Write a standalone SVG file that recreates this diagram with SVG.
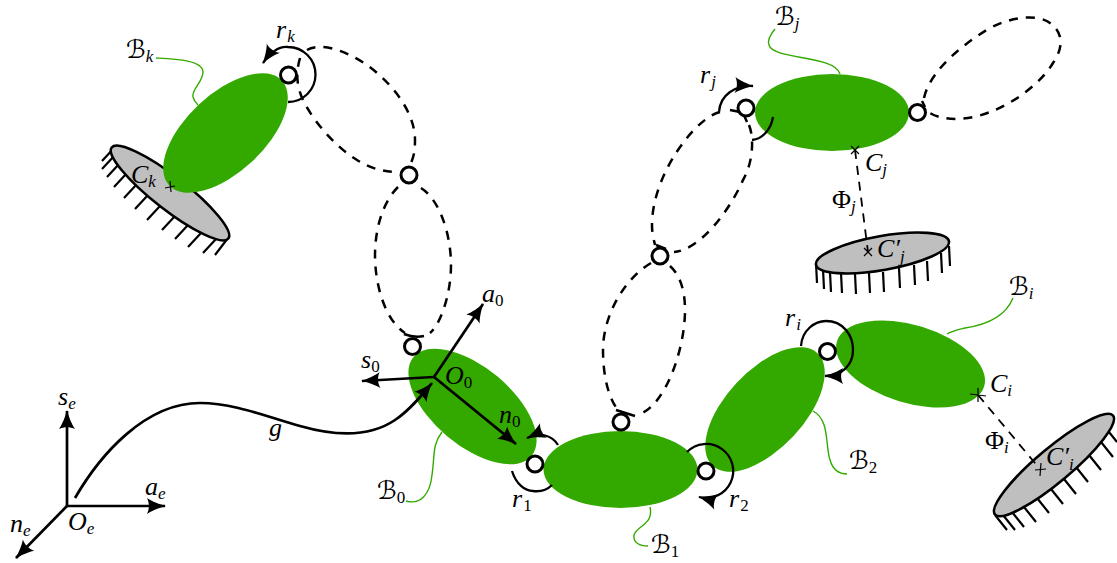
<svg xmlns="http://www.w3.org/2000/svg" width="1117" height="563" viewBox="0 0 1117 563">
<style>
.body{fill:#33a900}
.fix{fill:#bfbfbf;stroke:#000;stroke-width:2.6}
.hatch{stroke:#000;stroke-width:2.2;fill:none}
.joint{fill:#fff;stroke:#000;stroke-width:3}
.dash{fill:none;stroke:#000;stroke-width:2.5;stroke-dasharray:9 8}
.tick{fill:none;stroke:#000;stroke-width:2.5}
.thin{fill:none;stroke:#000;stroke-width:1.8;stroke-dasharray:9 7}
.arc{fill:none;stroke:#000;stroke-width:2.3}
.arr{fill:none;stroke:#000;stroke-width:2.7;marker-end:url(#h)}
.arcA{fill:none;stroke:#000;stroke-width:2.3;marker-end:url(#h)}
.lead{fill:none;stroke:#33a900;stroke-width:1.4}
.cross{stroke:#000;stroke-width:1.2;fill:none}
text{font-family:"Liberation Serif",serif;font-style:italic;font-size:26px;fill:#000}
.sub{font-size:17px}
.up{font-style:normal}
.cal{font-family:"DejaVu Serif","DejaVu Sans",serif;font-style:normal;font-size:25px}
</style>
<defs>
<marker id="h" markerUnits="userSpaceOnUse" markerWidth="20" markerHeight="16" viewBox="0 0 20 16" refX="19" refY="8" orient="auto" overflow="visible">
<path d="M20,8C14,9.500 6,12.500 1,16C3.500,11 3.500,5 1,0C6,3.500 14,6.500 20,8Z" fill="#000"/>
</marker>
</defs>

<g id="fix-k">
<path class="hatch" d="M102,161l13,-14M102,169l13,-14M107,177l13,-14M114,187l13,-14M124,198l13,-14M135,209l13,-14M147,220l13,-14M162,230l13,-14M175,239l13,-14M188,247l13,-14M203,253l13,-14M215,255l13,-17"/>
<ellipse class="fix" cx="170" cy="193" rx="74" ry="16.500" transform="rotate(38 170 193)"/>
</g>
<g id="fix-j">
<path class="hatch" d="M817,283l-1,-20M824,289l-1,-20M831,292l-1,-20M842,293l-1,-20M856,294l-1,-20M870,293l-1,-20M884,292l-1,-20M900,288l-1,-20M915,285l-1,-20M928,281l-1,-20M942,273l-1,-20M950,266l-1,-20"/>
<ellipse class="fix" cx="882.500" cy="253" rx="67.500" ry="17" transform="rotate(-10 882.500 253)"/>
</g>
<g id="fix-i">
<path class="hatch" d="M1007,530l-12,-15M1015,530l-12,-15M1024,527l-12,-15M1036,522l-12,-15M1049,513l-12,-15M1063,504l-12,-15M1076,494l-12,-15M1088,482l-12,-15M1101,470l-12,-15M1113,457l-12,-15M1117,442l-12,-15"/>
<ellipse class="fix" cx="1054" cy="465" rx="77" ry="17" transform="rotate(-40 1054 465)"/>
</g>

<g id="connectors">
<path class="lead" d="M156,58C175,59 203,60 203,72C203,82 191,90 193,97C194,101 196,103 198,105"/>
<path class="lead" d="M775,29C770,35 767,40 769,45C773,60 835,55 840,74"/>
<path class="lead" d="M1013,298C1005,318 985,325 965,328C957,330 952,331 947,334"/>
<path class="lead" d="M813,411C830,420 825,445 830,460C833,470 840,474 847,474"/>
<path class="lead" d="M650,507C654,525 637,525 634,535C633,543 640,546 648,546"/>
<path class="lead" d="M442,432C432,445 435,455 432,475C430,495 420,505 406,501"/>

<path class="dash" d="M307,50C320,42 345,50 367,65C392,83 415,112 415,140C415,150 414,156 411,163"/>
<path class="dash" d="M300,58C296,72 296,85 303,100C315,125 340,150 357,160C370,168 380,171 396,172"/>
<path class="dash" d="M398,187C380,205 375,235 375,255C375,285 385,320 405,333"/>
<path class="dash" d="M421,188C440,200 451,235 451,265C451,295 440,325 430,333"/>
<path class="dash" d="M651,263C625,278 603,315 603,350C603,380 610,400 618,410"/>
<path class="dash" d="M670,266C680,275 685,290 685,310C685,350 665,405 640,414"/>
<path class="dash" d="M720,112C695,118 652,175 652,225C652,235 654,240 655,245"/>
<path class="dash" d="M749,125C755,140 752,165 743,180C730,210 700,250 674,252"/>
<path class="dash" d="M924,98C928,78 950,52 990,28C1015,15 1040,15 1050,23C1062,32 1065,45 1053,63C1040,85 1010,105 990,112C970,120 945,122 930,113"/>
<path class="tick" d="M404,334Q414,338 424,336M616,410L635,416M656,245L666,249M730,110L740,112M743,113L747,122M922,101L925,107"/>
</g>

<g id="body-k"><ellipse class="body" cx="225.500" cy="133" rx="77" ry="39" transform="rotate(-43 225.500 133)"/></g>
<g id="body-j"><ellipse class="body" cx="832" cy="112.500" rx="77" ry="38.500"/></g>
<g id="body-0"><ellipse class="body" cx="472.500" cy="406.500" rx="77" ry="39" transform="rotate(40 472.500 406.500)"/></g>
<g id="body-1"><ellipse class="body" cx="620.500" cy="469.500" rx="77" ry="38.500"/></g>
<g id="body-2"><ellipse class="body" cx="765" cy="409.500" rx="77" ry="39" transform="rotate(-47 765 409.500)"/></g>
<g id="body-i"><ellipse class="body" cx="910.500" cy="364" rx="77" ry="39" transform="rotate(17 910.500 364)"/></g>

<g id="joints">
<circle class="joint" cx="288.500" cy="75" r="8"/>
<circle class="joint" cx="409" cy="175" r="8"/>
<circle class="joint" cx="412.500" cy="346.500" r="8"/>
<circle class="joint" cx="535" cy="464" r="8"/>
<circle class="joint" cx="621" cy="422" r="8"/>
<circle class="joint" cx="660" cy="256" r="8"/>
<circle class="joint" cx="746" cy="108" r="8"/>
<circle class="joint" cx="917.500" cy="112.500" r="8"/>
<circle class="joint" cx="706" cy="471" r="8"/>
<circle class="joint" cx="827.500" cy="351.500" r="8"/>
</g>

<g id="rotations">
<path class="arcA" d="M288,102A27,27 0 0 0 288,47C279,46 270,53 263,63"/>
<path class="arcA" d="M719,112C720,95 735,85 753,86"/>
<path class="arc" d="M773,117C771,130 762,139 752,140"/>
<path class="arc" d="M512,471C516,484 525,491 533,491C541,492 548,489 552,485"/>
<path class="arcA" d="M558,445C552,435 540,432 527,438"/>
<path class="arcA" d="M687,452A27,27 0 1 1 699,497"/>
<path class="arcA" d="M801,346C802,330 815,321 826,321C843,321 853,335 853,350C853,365 842,376 825,376"/>
</g>

<g id="frames">
<path class="arr" d="M434,377L483,304"/>
<path class="arr" d="M434,377L362,381"/>
<path class="arr" d="M434,377L516,444"/>
<path class="arr" d="M67,506L67,411"/>
<path class="arr" d="M67,506L165,506"/>
<path class="arr" d="M67,506L16,558"/>
<path class="arr" d="M75,498C100,455 145,403 200,403C235,403 270,418 300,426C335,436 370,437 395,420C410,410 422,395 432,383"/>
</g>

<g id="constraints">
<path class="thin" d="M855,150L868,252"/>
<path class="thin" d="M978,395L1040,469"/>
<path class="cross" d="M851,146l8,8M859,146l-8,8M864,248l8,8M872,248l-8,8"/>
<path class="cross" d="M970,394l16,2M978,388l0,14M1035,470l11,-1M1041,463l-1,13"/>
<path class="cross" d="M165,188l10,-2M170,181l1,11"/>
</g>

<g id="labels">
<text x="126" y="58"><tspan class="cal">ℬ</tspan><tspan class="sub" dy="4">k</tspan></text>
<text x="276" y="38">r<tspan class="sub" dy="4" dx="1">k</tspan></text>
<text x="775" y="25"><tspan class="cal">ℬ</tspan><tspan class="sub" dy="4">j</tspan></text>
<text x="700" y="83">r<tspan class="sub" dy="4" dx="1">j</tspan></text>
<text x="865" y="171">C<tspan class="sub" dy="4">j</tspan></text>
<text x="832" y="208"><tspan class="up">Φ</tspan><tspan class="sub" dy="4">j</tspan></text>
<text x="877" y="257">C′<tspan class="sub" dy="5">j</tspan></text>
<text x="1009" y="295"><tspan class="cal">ℬ</tspan><tspan class="sub" dy="4">i</tspan></text>
<text x="785" y="326">r<tspan class="sub" dy="4" dx="1">i</tspan></text>
<text x="990" y="392">C<tspan class="sub" dy="4">i</tspan></text>
<text x="985" y="449"><tspan class="up">Φ</tspan><tspan class="sub" dy="4">i</tspan></text>
<text x="1046" y="465">C′<tspan class="sub" dy="5">i</tspan></text>
<text x="849" y="469"><tspan class="cal">ℬ</tspan><tspan class="sub up" dy="4">2</tspan></text>
<text x="729" y="507">r<tspan class="sub up" dy="4" dx="1">2</tspan></text>
<text x="512" y="507">r<tspan class="sub up" dy="4" dx="1">1</tspan></text>
<text x="651" y="553"><tspan class="cal">ℬ</tspan><tspan class="sub up" dy="4">1</tspan></text>
<text x="377" y="499"><tspan class="cal">ℬ</tspan><tspan class="sub up" dy="4">0</tspan></text>
<text x="499" y="423">n<tspan class="sub up" dy="4">0</tspan></text>
<text x="445" y="384">O<tspan class="sub up" dy="4">0</tspan></text>
<text x="361" y="368">s<tspan class="sub up" dy="4">0</tspan></text>
<text x="482" y="302">a<tspan class="sub up" dy="4">0</tspan></text>
<text x="269" y="436">g</text>
<text x="58" y="405">s<tspan class="sub" dy="4">e</tspan></text>
<text x="145" y="495">a<tspan class="sub" dy="4">e</tspan></text>
<text x="10" y="532">n<tspan class="sub" dy="4">e</tspan></text>
<text x="68" y="530">O<tspan class="sub" dy="4">e</tspan></text>
<text x="131" y="183">C<tspan class="sub" dy="4">k</tspan></text>
</g>
</svg>
